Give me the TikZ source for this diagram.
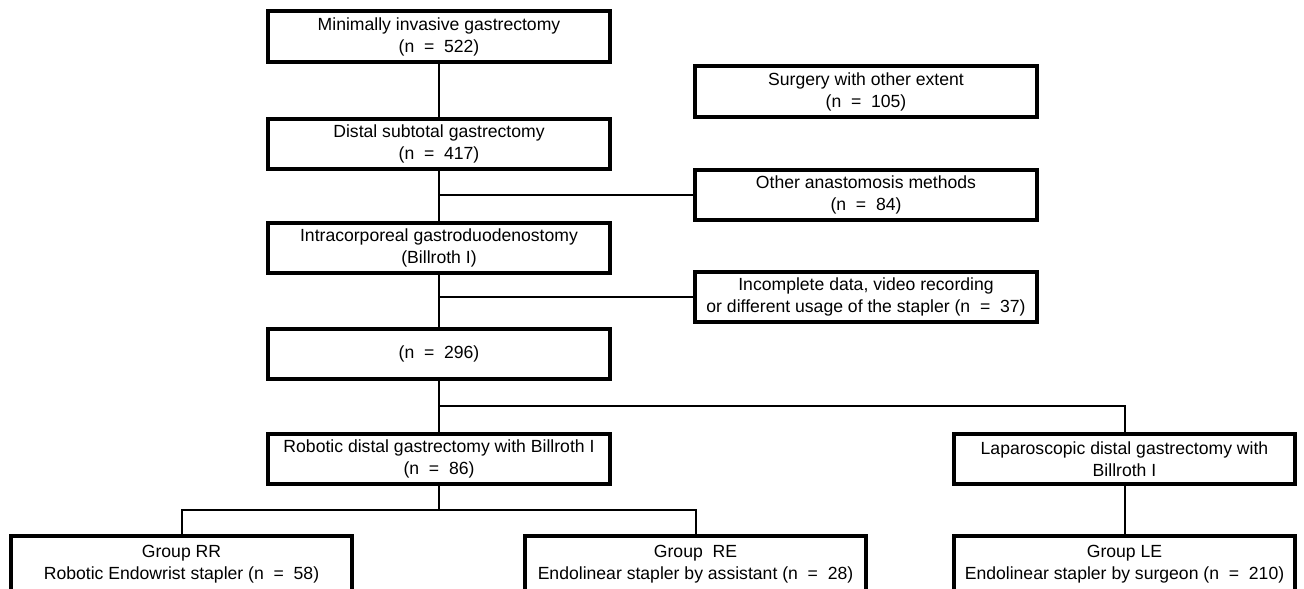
\documentclass[tikz,border=0pt]{standalone}
\usepackage{fontspec}
\setmainfont{Liberation Sans}
\begin{document}
\begin{tikzpicture}[x=0.75pt,y=-0.75pt,
	box/.style={draw,line width=3pt,minimum width=256pt,minimum height=38pt,
		align=center,inner sep=0pt,font=\fontsize{13.2}{16.5}\selectfont},
	group/.style={box,minimum height=43pt},
	link/.style={line width=1.5pt}]
	% Area del disegno
	\useasboundingbox (0,0) rectangle (1304,589);
	\clip (0,0) rectangle (1304,589);

	% Colonna centrale
	\node[box] (mig) at (439,36.5) {Minimally invasive gastrectomy\\(n \ = \ 522)};
	\node[box] (dsg) at (439,144) {Distal subtotal gastrectomy\\(n \ = \ 417)};
	\node[box] (icg) at (439,248) {Intracorporeal gastroduodenostomy\\(Billroth I)};
	\node[box] (tot) at (439,354) {(n \ = \ 296)};
	\node[box] (rdg) at (439,459) {Robotic distal gastrectomy with Billroth I\\(n \ = \ 86)};

	% Esclusioni
	\node[box] (ext) at (866,91.5) {Surgery with other extent\\(n \ = \ 105)};
	\node[box] (oam) at (866,195) {Other anastomosis methods\\(n \ = \ 84)};
	\node[box] (inc) at (866,297) {Incomplete data, video recording\\or different usage of the stapler (n \ = \ 37)};

	% Laparoscopia
	\node[box] (ldg) at (1124.5,459) {Laparoscopic distal gastrectomy with\\Billroth I};

	% Gruppi (tagliati in basso)
	\node[group] (rr) at (181.5,564.5) {Group RR\\Robotic Endowrist stapler (n \ = \ 58)};
	\node[group] (re) at (695.5,564.5) {Group \ RE\\Endolinear stapler by assistant (n \ = \ 28)};
	\node[group] (le) at (1124.5,564.5) {Group LE\\Endolinear stapler by surgeon (n \ = \ 210)};

	% Punti di diramazione
	\coordinate (j1) at (dsg.south |- oam.west);
	\coordinate (j2) at (icg.south |- inc.west);
	\coordinate (j3) at (439,406);
	\coordinate (j4) at (439,510);

	% Collegamenti
	\draw[link] (mig.south) -- (dsg.north);
	\draw[link] (dsg.south) -- (icg.north);
	\draw[link] (j1) -- (oam.west);
	\draw[link] (icg.south) -- (tot.north);
	\draw[link] (j2) -- (inc.west);
	\draw[link] (tot.south) -- (rdg.north);
	\draw[link] (j3) -| (ldg.north);
	\draw[link] (rdg.south) -- (j4);
	\draw[link] (j4) -| (rr.north);
	\draw[link] (j4) -| (re.north);
	\draw[link] (ldg.south) -- (le.north);

\end{tikzpicture}
\end{document}
